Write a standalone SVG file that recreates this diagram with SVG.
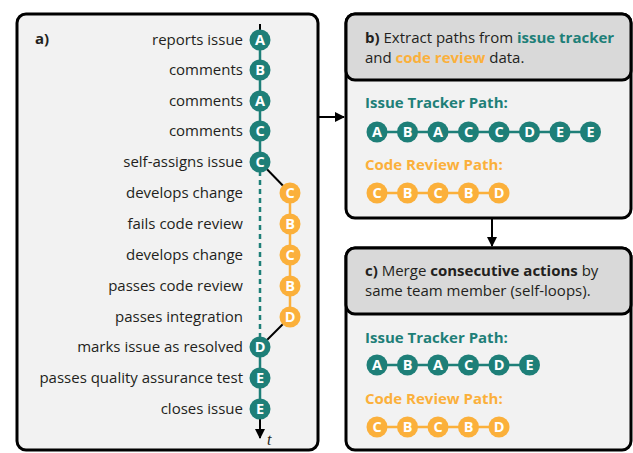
<svg xmlns="http://www.w3.org/2000/svg" width="633" height="453" viewBox="0 0 633 453">
<defs>
<style>
text{font-family:"Open Sans","Noto Sans",sans-serif;}
.panel{fill:#f2f2f2;stroke:#000;stroke-width:3;}
.head{fill:#d9d9d9;stroke:#000;stroke-width:3;}
.lbl{font-size:15px;fill:#231f20;text-anchor:end;}
.hd{font-size:15px;fill:#231f20;}
.b{font-weight:bold;}
.tealt{fill:#1e7f78;font-weight:bold;}
.orat{fill:#fbb03b;font-weight:bold;}
.pt{font-size:15px;font-weight:bold;}
.t{fill:#1e7f78;}
.o{fill:#fbb03b;}
.let{font-size:14.5px;font-weight:bold;fill:#fff;text-anchor:middle;}
.tl{stroke:#1e7f78;stroke-width:2.5;fill:none;}
.ol{stroke:#fbb03b;stroke-width:2.5;fill:none;}
.bl{stroke:#000;stroke-width:2;fill:none;}
</style>
<marker id="ah" viewBox="0 0 10 10" refX="9" refY="5" markerWidth="10" markerHeight="10" markerUnits="userSpaceOnUse" orient="auto">
<path d="M0,0 L10,5 L0,10 Z" fill="#000"/>
</marker>
</defs>

<g id="panel-a">
<rect class="panel" x="17" y="14" width="301" height="436" rx="9"/>
<text x="35" y="44" class="hd b">a)</text>
</g>

<g id="panel-b">
<rect class="panel" x="346" y="14" width="285" height="204" rx="9"/>
<rect class="head" x="346" y="14" width="285" height="66" rx="9"/>
<text x="365" y="43" class="hd"><tspan class="b">b)</tspan> Extract paths from <tspan class="tealt">issue tracker</tspan></text>
<text x="365" y="63" class="hd">and <tspan class="orat">code review</tspan> data.</text>
<text x="365" y="108" class="pt t">Issue Tracker Path:</text>
<text x="365" y="170" class="pt o">Code Review Path:</text>
</g>

<g id="panel-c">
<rect class="panel" x="346" y="248" width="285" height="202" rx="9"/>
<rect class="head" x="346" y="248" width="285" height="66" rx="9"/>
<text x="365" y="276" class="hd"><tspan class="b">c)</tspan> Merge <tspan class="b">consecutive actions</tspan> by</text>
<text x="365" y="296" class="hd">same team member (self-loops).</text>
<text x="365" y="343" class="pt t">Issue Tracker Path:</text>
<text x="365" y="404" class="pt o">Code Review Path:</text>
</g>

<g id="connectors">
<line class="bl" x1="260" y1="24" x2="260" y2="40"/>
<line class="tl" x1="260" y1="40" x2="260" y2="162"/>
<line class="tl" x1="260" y1="162" x2="260" y2="347" stroke-dasharray="5,4"/>
<line class="bl" x1="260" y1="162" x2="290" y2="193"/>
<line class="ol" x1="290" y1="193" x2="290" y2="317"/>
<line class="bl" x1="290" y1="317" x2="260" y2="347"/>
<line class="tl" x1="260" y1="347" x2="260" y2="409"/>
<line class="bl" x1="260" y1="409" x2="260" y2="438" marker-end="url(#ah)"/>
<line class="bl" x1="318" y1="117" x2="344" y2="117" marker-end="url(#ah)"/>
<line class="bl" x1="492" y1="219" x2="492" y2="246" marker-end="url(#ah)"/>
<line class="tl" x1="377" y1="132" x2="591" y2="132"/>
<line class="ol" x1="377" y1="193" x2="499" y2="193"/>
<line class="tl" x1="377" y1="365" x2="530" y2="365"/>
<line class="ol" x1="377" y1="427" x2="499" y2="427"/>
</g>

<g id="timeline-labels">
<text class="lbl" x="243" y="45">reports issue</text>
<text class="lbl" x="243" y="75">comments</text>
<text class="lbl" x="243" y="106">comments</text>
<text class="lbl" x="243" y="136">comments</text>
<text class="lbl" x="243" y="167">self-assigns issue</text>
<text class="lbl" x="243" y="198">develops change</text>
<text class="lbl" x="243" y="229">fails code review</text>
<text class="lbl" x="243" y="260">develops change</text>
<text class="lbl" x="243" y="291">passes code review</text>
<text class="lbl" x="243" y="322">passes integration</text>
<text class="lbl" x="243" y="352">marks issue as resolved</text>
<text class="lbl" x="243" y="383">passes quality assurance test</text>
<text class="lbl" x="243" y="414">closes issue</text>
<text x="267" y="445" style="font-family:'Liberation Serif',serif;font-style:italic;font-size:16px;fill:#231f20">t</text>
</g>

<g id="timeline-nodes">
<circle class="t" cx="260" cy="40" r="10.5"/><text class="let" x="260" y="45">A</text>
<circle class="t" cx="260" cy="70" r="10.5"/><text class="let" x="260" y="75">B</text>
<circle class="t" cx="260" cy="101" r="10.5"/><text class="let" x="260" y="106">A</text>
<circle class="t" cx="260" cy="131" r="10.5"/><text class="let" x="260" y="136">C</text>
<circle class="t" cx="260" cy="162" r="10.5"/><text class="let" x="260" y="167">C</text>
<circle class="o" cx="290" cy="193" r="10.5"/><text class="let" x="290" y="198">C</text>
<circle class="o" cx="290" cy="224" r="10.5"/><text class="let" x="290" y="229">B</text>
<circle class="o" cx="290" cy="255" r="10.5"/><text class="let" x="290" y="260">C</text>
<circle class="o" cx="290" cy="286" r="10.5"/><text class="let" x="290" y="291">B</text>
<circle class="o" cx="290" cy="317" r="10.5"/><text class="let" x="290" y="322">D</text>
<circle class="t" cx="260" cy="347" r="10.5"/><text class="let" x="260" y="352">D</text>
<circle class="t" cx="260" cy="378" r="10.5"/><text class="let" x="260" y="383">E</text>
<circle class="t" cx="260" cy="409" r="10.5"/><text class="let" x="260" y="414">E</text>
</g>

<g id="b-issue-path">
<circle class="t" cx="377" cy="132" r="10.5"/><text class="let" x="377" y="137">A</text>
<circle class="t" cx="407.5" cy="132" r="10.5"/><text class="let" x="407.5" y="137">B</text>
<circle class="t" cx="438" cy="132" r="10.5"/><text class="let" x="438" y="137">A</text>
<circle class="t" cx="468.5" cy="132" r="10.5"/><text class="let" x="468.5" y="137">C</text>
<circle class="t" cx="499" cy="132" r="10.5"/><text class="let" x="499" y="137">C</text>
<circle class="t" cx="529.5" cy="132" r="10.5"/><text class="let" x="529.5" y="137">D</text>
<circle class="t" cx="560" cy="132" r="10.5"/><text class="let" x="560" y="137">E</text>
<circle class="t" cx="590.5" cy="132" r="10.5"/><text class="let" x="590.5" y="137">E</text>
</g>

<g id="b-review-path">
<circle class="o" cx="377" cy="193" r="10.5"/><text class="let" x="377" y="198">C</text>
<circle class="o" cx="407.5" cy="193" r="10.5"/><text class="let" x="407.5" y="198">B</text>
<circle class="o" cx="438" cy="193" r="10.5"/><text class="let" x="438" y="198">C</text>
<circle class="o" cx="468.5" cy="193" r="10.5"/><text class="let" x="468.5" y="198">B</text>
<circle class="o" cx="499" cy="193" r="10.5"/><text class="let" x="499" y="198">D</text>
</g>

<g id="c-issue-path">
<circle class="t" cx="377" cy="365" r="10.5"/><text class="let" x="377" y="370">A</text>
<circle class="t" cx="407.5" cy="365" r="10.5"/><text class="let" x="407.5" y="370">B</text>
<circle class="t" cx="438" cy="365" r="10.5"/><text class="let" x="438" y="370">A</text>
<circle class="t" cx="468.5" cy="365" r="10.5"/><text class="let" x="468.5" y="370">C</text>
<circle class="t" cx="499" cy="365" r="10.5"/><text class="let" x="499" y="370">D</text>
<circle class="t" cx="529.5" cy="365" r="10.5"/><text class="let" x="529.5" y="370">E</text>
</g>

<g id="c-review-path">
<circle class="o" cx="377" cy="427" r="10.5"/><text class="let" x="377" y="432">C</text>
<circle class="o" cx="407.5" cy="427" r="10.5"/><text class="let" x="407.5" y="432">B</text>
<circle class="o" cx="438" cy="427" r="10.5"/><text class="let" x="438" y="432">C</text>
<circle class="o" cx="468.5" cy="427" r="10.5"/><text class="let" x="468.5" y="432">B</text>
<circle class="o" cx="499" cy="427" r="10.5"/><text class="let" x="499" y="432">D</text>
</g>
</svg>
